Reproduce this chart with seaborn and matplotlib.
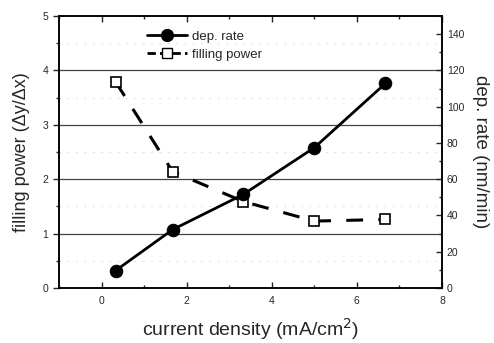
import matplotlib
matplotlib.use("Agg")
import matplotlib.pyplot as plt
import seaborn as sns
import pandas as pd
from matplotlib.ticker import MultipleLocator
from matplotlib.lines import Line2D

current_density = [0.33, 1.67, 3.33, 5.0, 6.67]
filling_power = [3.79, 2.14, 1.59, 1.23, 1.26]
dep_rate = [9.6, 32.2, 51.6, 77.4, 112.8]

sns.set_theme(style="ticks")
plt.rcParams['font.family'] = ['Liberation Sans', 'DejaVu Sans']

fig = plt.figure(figsize=(4.94, 3.43), dpi=100)
ax = fig.add_axes([0.1194, 0.1603, 0.7753, 0.7931])
ax2 = ax.twinx()

df = pd.DataFrame({"x": current_density, "fp": filling_power, "dr": dep_rate})

# horizontal grid lines
for yv in [1, 2, 3, 4]:
    ax.axhline(yv, color="#444444", lw=0.9, zorder=0)
for yv in [0.5, 1.5, 2.5, 3.5, 4.5]:
    ax.axhline(yv, color="#d5d5d5", lw=0.6, ls=(0, (2, 8)), zorder=0)

sns.lineplot(data=df, x="x", y="fp", ax=ax, color="black", lw=2.2,
             marker="s", markersize=7.5, markerfacecolor="white",
             markeredgecolor="black", markeredgewidth=1.2, legend=False)
ax.lines[-1].set_dashes([5.5, 5])

sns.lineplot(data=df, x="x", y="dr", ax=ax2, color="black", lw=2.0,
             marker="o", markersize=9, markerfacecolor="black",
             markeredgecolor="black", legend=False)

ax.set_xlim(-1, 8)
ax.set_ylim(0, 5)
ax2.set_ylim(0, 150)

ax.xaxis.set_major_locator(MultipleLocator(2))
ax.xaxis.set_minor_locator(MultipleLocator(1))
ax.yaxis.set_major_locator(MultipleLocator(1))
ax.yaxis.set_minor_locator(MultipleLocator(0.5))
ax2.yaxis.set_major_locator(MultipleLocator(20))
ax2.yaxis.set_minor_locator(MultipleLocator(10))

ax.tick_params(axis="x", which="both", direction="in", top=True, labelsize=7.5, width=1, pad=6)
ax.tick_params(axis="x", which="major", length=4)
ax.tick_params(axis="x", which="minor", length=2.5)
ax.tick_params(axis="y", which="both", direction="out", labelsize=7.5, width=1)
ax.tick_params(axis="y", which="major", length=4)
ax.tick_params(axis="y", which="minor", length=2.5)
ax2.tick_params(axis="y", which="both", direction="in", labelsize=7.5, width=1)
ax2.tick_params(axis="y", which="major", length=4)
ax2.tick_params(axis="y", which="minor", length=2.5)

for a in (ax, ax2):
    for s in a.spines.values():
        s.set_linewidth(1.1)
        s.set_color("black")

ax.set_xlabel("current density (mA/cm$^2$)", fontsize=14, labelpad=7)
ax.set_ylabel("filling power (\u0394y/\u0394x)", fontsize=13, labelpad=9)
ax2.set_ylabel("dep. rate (nm/min)", fontsize=13.5, rotation=270, labelpad=18)

handles = [
    Line2D([], [], color="black", lw=2.0, marker="o", markersize=8.5, markerfacecolor="black"),
    Line2D([], [], color="black", lw=2.0, marker="s", markersize=7.5, markerfacecolor="white",
           dashes=[3, 1.5]),
]
ax2.legend(handles, ["dep. rate", "filling power"], loc="upper left",
           bbox_to_anchor=(0.2, 0.99), frameon=False, fontsize=9.5,
           handlelength=3.0, handletextpad=0.4, labelspacing=0.45)

fig.savefig("out.png", dpi=100)
